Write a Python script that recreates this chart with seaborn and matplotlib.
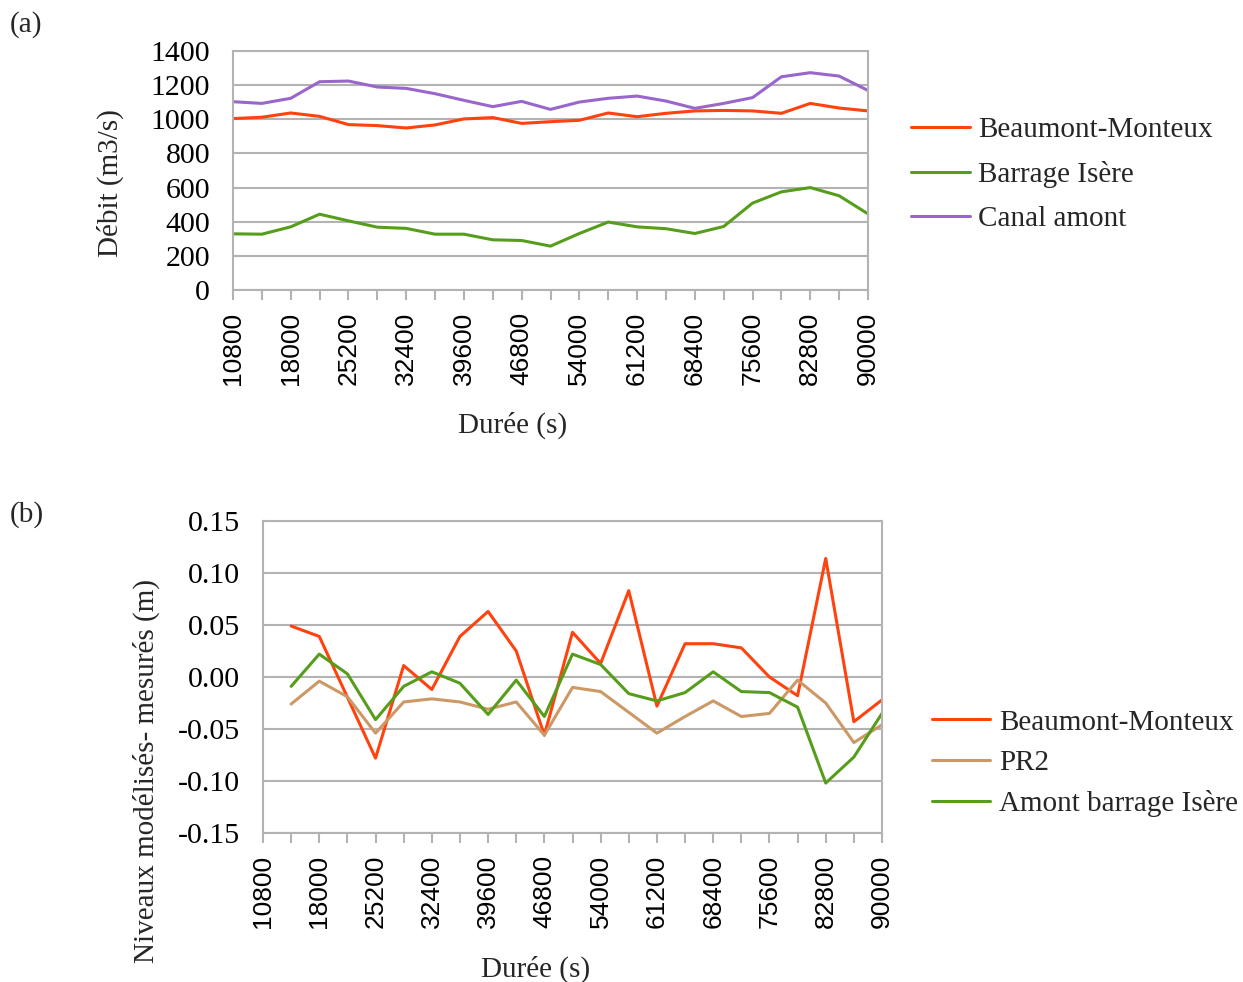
import numpy as np
import pandas as pd
import matplotlib
matplotlib.use("Agg")
import matplotlib.pyplot as plt
import seaborn as sns

# ---------------- data ----------------
time_a = list(range(10800, 90001, 3600))
beaumont_a = [1004, 1012, 1037, 1017, 969, 963, 949, 967, 1002, 1010, 976, 986,
              994, 1037, 1015, 1035, 1049, 1052, 1049, 1035, 1093, 1066, 1049]
barrage_a = [329, 327, 370, 444, 405, 368, 361, 327, 327, 294, 290, 257,
             331, 398, 370, 359, 331, 372, 509, 575, 600, 552, 446]
canal_a = [1103, 1093, 1123, 1220, 1224, 1189, 1181, 1150, 1111, 1074, 1105, 1058,
           1101, 1123, 1136, 1107, 1064, 1093, 1127, 1249, 1273, 1253, 1169]

time_b = list(range(14400, 90001, 3600))
beaumont_b = [0.049, 0.039, -0.0195, -0.078, 0.011, -0.012, 0.039, 0.063, 0.025, -0.056,
              0.043, 0.013, 0.083, -0.028, 0.032, 0.032, 0.028, 0.000, -0.018, 0.114,
              -0.043, -0.022]
pr2_b = [-0.026, -0.004, -0.019, -0.054, -0.024, -0.021, -0.024, -0.031, -0.024, -0.056,
         -0.010, -0.014, -0.034, -0.054, -0.038, -0.023, -0.038, -0.035, -0.003, -0.025,
         -0.063, -0.046]
amont_b = [-0.009, 0.022, 0.003, -0.041, -0.009, 0.005, -0.006, -0.036, -0.003, -0.038,
           0.022, 0.012, -0.016, -0.023, -0.015, 0.005, -0.014, -0.015, -0.029, -0.102,
           -0.077, -0.035]

xtick_vals = list(range(10800, 90001, 3600))
xtick_labels = [str(v) if (v - 10800) % 7200 == 0 else "" for v in xtick_vals]

# ---------------- style ----------------
sns.set_theme(style="white")
plt.rcParams['font.family'] = ['Liberation Serif', 'DejaVu Serif']

RED = "#FF420E"
GREEN = "#579D1C"
PURPLE = "#9966CC"
TAN = "#CC9966"
GRID = "#B3B3B3"
LW = 2.2

fig = plt.figure(figsize=(12.43, 9.82), dpi=100)
ax1 = fig.add_axes([233/1243, 1-290/982, 635/1243, 239/982])
ax2 = fig.add_axes([263/1243, 1-833/982, 619/1243, 312/982])

df_a = pd.DataFrame({"t": time_a, "Beaumont-Monteux": beaumont_a,
                     "Barrage Isère": barrage_a, "Canal amont": canal_a})
df_b = pd.DataFrame({"t": time_b, "Beaumont-Monteux": beaumont_b,
                     "PR2": pr2_b, "Amont barrage Isère": amont_b})

for name, col in [("Beaumont-Monteux", RED), ("Barrage Isère", GREEN), ("Canal amont", PURPLE)]:
    sns.lineplot(data=df_a, x="t", y=name, ax=ax1, color=col, lw=LW, label=name)
for name, col in [("Beaumont-Monteux", RED), ("PR2", TAN), ("Amont barrage Isère", GREEN)]:
    sns.lineplot(data=df_b, x="t", y=name, ax=ax2, color=col, lw=LW, label=name)


def style_axes(ax):
    ax.set_xlim(10800, 90000)
    ax.set_xticks(xtick_vals)
    ax.set_xticklabels(xtick_labels, rotation=90, family=['Liberation Sans', 'DejaVu Sans'],
                       fontsize=19, color="black")
    ax.grid(axis="y", color=GRID, lw=1.5)
    ax.set_axisbelow(True)
    for s in ax.spines.values():
        s.set_color(GRID)
        s.set_linewidth(1.5)
    ax.tick_params(axis="both", which="both", direction="out", length=7.5, width=1.5,
                   color=GRID)
    ax.tick_params(axis="y", labelsize=21.5, labelcolor="black", pad=9)
    ax.tick_params(axis="x", bottom=True, pad=8)


style_axes(ax1)
ax1.set_ylim(0, 1400)
ax1.set_yticks(range(0, 1401, 200))
ax1.set_xlabel("Durée (s)", fontsize=21)
ax1.set_ylabel("Débit (m3/s)", fontsize=21)
ax1.xaxis.set_label_coords(0.441, -0.51)
ax1.yaxis.set_label_coords(-0.172, 0.448)
ax1.legend(loc="upper left", bbox_to_anchor=(1.050, 0.773), frameon=False, fontsize=21,
           handlelength=2.0, handletextpad=0.3, labelspacing=0.6, borderaxespad=0)

style_axes(ax2)
ax2.set_ylim(-0.15, 0.15)
yt = np.arange(-0.15, 0.1501, 0.05)
ax2.set_yticks(yt)
ax2.set_yticklabels([f"{v:.2f}".replace("-0.00", "0.00") for v in yt])
ax2.set_xlabel("Durée (s)", fontsize=21)
ax2.set_ylabel("Niveaux modélisés- mesurés (m)", fontsize=21)
ax2.xaxis.set_label_coords(0.44, -0.394)
ax2.yaxis.set_label_coords(-0.166, 0.2)
ax2.legend(loc="upper left", bbox_to_anchor=(1.062, 0.434), frameon=False, fontsize=21,
           handlelength=2.0, handletextpad=0.3, labelspacing=0.48, borderaxespad=0)

fig.text(10/1243, 1-25/982, "(a)", fontsize=21, va="center", ha="left")
fig.text(10/1243, 1-515/982, "(b)", fontsize=21, va="center", ha="left")

fig.savefig("out.png", dpi=100)
